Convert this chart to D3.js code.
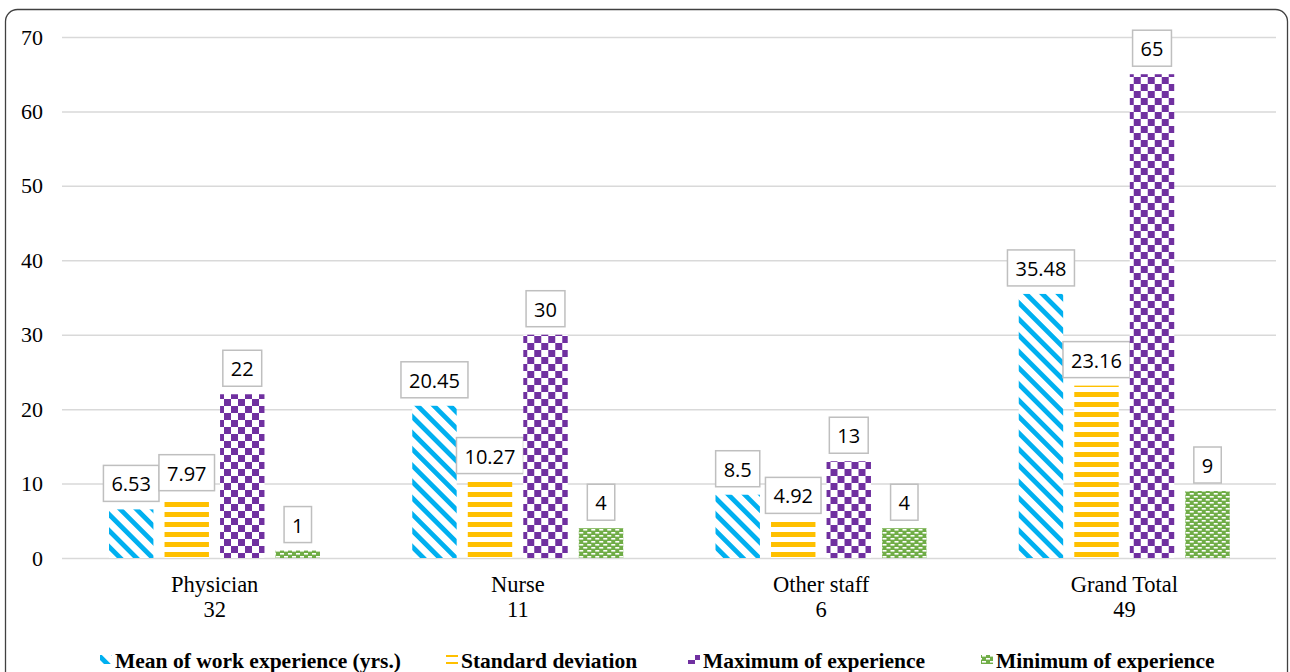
<!doctype html>
<html>
  <head>
    <meta charset="utf-8">
    <title>Work experience</title>
    <script src="https://cdnjs.cloudflare.com/ajax/libs/d3/7.8.5/d3.min.js"></script>
    <style>
      body { margin: 0; background: #fff; }
      .tick text { font-family: "Liberation Serif", serif; }
    </style>
  </head>
  <body>
    <div id="chart"></div>
    <script>
      // data
      const categories = ['Physician', 'Nurse', 'Other staff', 'Grand Total'];
      const counts = ['32', '11', '6', '49'];
      const seriesNames = ['Mean of work experience (yrs.)', 'Standard deviation', 'Maximum of experience', 'Minimum of experience'];
      const meanExp = [6.53, 20.45, 8.5, 35.48];
      const stdDev = [7.97, 10.27, 4.92, 23.16];
      const maxExp = [22, 30, 13, 65];
      const minExp = [1, 4, 4, 9];
      const yTicks = [0, 10, 20, 30, 40, 50, 60, 70];

      const seriesValues = [meanExp, stdDev, maxExp, minExp];
      const patternIds = ['pMean', 'pStd', 'pMax', 'pMin'];

      const W = 1290, H = 672;
      const svg = d3.select('#chart').append('svg')
        .attr('width', W).attr('height', H);

      // patterns
      const defs = svg.append('defs');

      // wide downward diagonal
      const pMean = defs.append('pattern').attr('id', 'pMean')
        .attr('patternUnits', 'userSpaceOnUse').attr('width', 11.5).attr('height', 11.5)
        .attr('patternTransform', 'rotate(-45)');
      pMean.append('rect').attr('width', 11.5).attr('height', 11.5).attr('fill', '#fff');
      pMean.append('rect').attr('width', 4.8).attr('height', 11.5).attr('fill', '#00b0f0');

      const pStd = defs.append('pattern').attr('id', 'pStd')
        .attr('patternUnits', 'userSpaceOnUse').attr('width', 10).attr('height', 10);
      pStd.append('rect').attr('width', 10).attr('height', 10).attr('fill', '#fff');
      pStd.append('rect').attr('y', 2).attr('width', 10).attr('height', 5).attr('fill', '#ffc000');

      const pMax = defs.append('pattern').attr('id', 'pMax')
        .attr('patternUnits', 'userSpaceOnUse').attr('width', 14).attr('height', 14);
      pMax.append('rect').attr('width', 14).attr('height', 14).attr('fill', '#fff');
      pMax.append('rect').attr('width', 7).attr('height', 7).attr('fill', '#7030a0');
      pMax.append('rect').attr('x', 7).attr('y', 7).attr('width', 7).attr('height', 7).attr('fill', '#7030a0');

      const pMin = defs.append('pattern').attr('id', 'pMin')
        .attr('patternUnits', 'userSpaceOnUse').attr('width', 8).attr('height', 6);
      pMin.append('rect').attr('width', 8).attr('height', 6).attr('fill', '#70ad47');
      pMin.append('rect').attr('x', 1).attr('y', 1).attr('width', 4).attr('height', 1.6).attr('fill', '#fff');
      pMin.append('rect').attr('x', 5).attr('y', 4).attr('width', 4).attr('height', 1.6).attr('fill', '#fff');
      pMin.append('rect').attr('x', -3).attr('y', 4).attr('width', 4).attr('height', 1.6).attr('fill', '#fff');

      // frame
      svg.append('rect')
        .attr('x', 5.5).attr('y', 9.5).attr('width', 1282).attr('height', 700)
        .attr('rx', 12).attr('fill', 'none').attr('stroke', '#404040').attr('stroke-width', 1.3);

      // scales
      const x0 = d3.scaleBand().domain(categories).range([63, 1276]);
      const x1 = d3.scaleBand().domain(d3.range(4)).range([46, 257]).paddingInner(0.2);
      const y = d3.scaleLinear().domain([0, 70]).range([558, 37]);

      // grid + y labels
      const yAxis = svg.append('g')
        .attr('transform', 'translate(62,0)')
        .call(d3.axisLeft(y).tickValues(yTicks).tickSize(-1214).tickPadding(19));
      yAxis.select('.domain').remove();
      yAxis.selectAll('.tick line').attr('stroke', '#d9d9d9').attr('stroke-width', 1.5);
      yAxis.selectAll('.tick text').attr('font-size', 22).attr('fill', '#000');

      // category labels
      const cat = svg.append('g').selectAll('text')
        .data(categories).join('text')
        .attr('x', d => x0(d) + x0.bandwidth() / 2)
        .attr('text-anchor', 'middle')
        .attr('font-family', '"Liberation Serif", serif')
        .attr('font-size', 22.5);
      cat.append('tspan').attr('x', d => x0(d) + x0.bandwidth() / 2).attr('y', 592).text(d => d);
      cat.append('tspan').attr('x', d => x0(d) + x0.bandwidth() / 2).attr('y', 617).text((d, i) => counts[i]);

      // bars
      const groups = svg.append('g').selectAll('g')
        .data(categories).join('g')
        .attr('transform', d => `translate(${x0(d)},0)`);

      const cells = groups.selectAll('g.cell')
        .data((d, ci) => seriesValues.map((vals, si) => ({ si, v: vals[ci] })))
        .join('g').attr('class', 'cell');

      cells.append('rect')
        .attr('x', d => x1(d.si))
        .attr('y', d => y(d.v))
        .attr('width', x1.bandwidth())
        .attr('height', d => y(0) - y(d.v))
        .attr('fill', d => `url(#${patternIds[d.si]})`);

      // value label boxes
      cells.each(function (d) {
        const g = d3.select(this);
        const cx = x1(d.si) + x1.bandwidth() / 2;
        const bottom = y(d.v) - 8;
        const t = g.append('text')
          .attr('x', cx).attr('y', bottom - 10)
          .attr('text-anchor', 'middle')
          .attr('font-family', '"Open Sans", sans-serif')
          .attr('font-size', 20)
          .attr('fill', '#000')
          .text(d.v);
        const w = t.node().getComputedTextLength() + 16;
        g.insert('rect', 'text')
          .attr('x', cx - w / 2).attr('y', bottom - 36)
          .attr('width', w).attr('height', 36)
          .attr('fill', '#fff').attr('stroke', '#bfbfbf').attr('stroke-width', 1.5);
      });

      // legend
      const legendX = [100, 446, 688, 981];
      const leg = svg.append('g').selectAll('g')
        .data(seriesNames).join('g')
        .attr('transform', (d, i) => `translate(${legendX[i]},660)`);
      leg.append('rect')
        .attr('x', 0).attr('y', -5).attr('width', 12).attr('height', 9)
        .attr('fill', (d, i) => `url(#${patternIds[i]})`);
      leg.append('text')
        .attr('x', 15).attr('y', 8)
        .attr('font-family', '"Liberation Serif", serif')
        .attr('font-weight', 'bold')
        .attr('font-size', 21.5)
        .text(d => d);
    </script>
  </body>
</html>
